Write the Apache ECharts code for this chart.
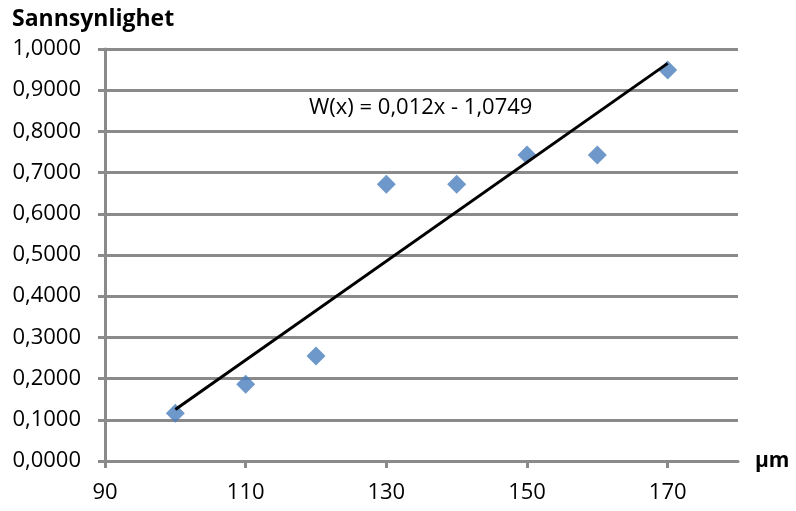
<!DOCTYPE html>
<html>
<head>
<meta charset="utf-8">
<script src="https://cdn.jsdelivr.net/npm/echarts@6/dist/echarts.min.js"></script>
<style>
  html, body { margin: 0; padding: 0; background: #fff; }
  #chart { width: 796px; height: 511px; }
</style>
</head>
<body>
<div id="chart"></div>
<script>
// Measured diameters (µm) and the observed probability for each
const diameters = [100, 110, 120, 130, 140, 150, 160, 170];
const probabilities = [0.116, 0.186, 0.255, 0.672, 0.672, 0.743, 0.743, 0.949];

// Linear trend W(x) = a·x + b, drawn over the measured range
const trendSlope = 0.012;
const trendIntercept = -1.0749;
const trendRange = [100, 170];

const xTickValues = [90, 110, 130, 150, 170];

const FONT = '"Open Sans", "Noto Sans", sans-serif';
const GRID_GRAY = '#8a8a8a';

const points = diameters.map((d, i) => [d, probabilities[i]]);
const trendPoints = trendRange.map(x => [x, trendSlope * x + trendIntercept]);

const fmtComma = (v, digits) => v.toFixed(digits).replace('.', ',');

const chart = echarts.init(document.getElementById('chart'), null, { renderer: 'canvas' });
chart.setOption({
  animation: false,
  backgroundColor: '#ffffff',
  title: {
    text: 'Sannsynlighet',
    left: 7,
    top: 3,
    textStyle: { fontFamily: FONT, fontSize: 23, fontWeight: 'bold', color: '#000' }
  },
  grid: { left: 105, right: 58, top: 49, bottom: 50, containLabel: false },
  xAxis: {
    type: 'value',
    min: 90,
    max: 180,
    name: 'µm',
    nameLocation: 'end',
    nameGap: 17,
    nameTextStyle: { fontFamily: FONT, fontSize: 21, fontWeight: 'bold', color: '#000', verticalAlign: 'middle', padding: [6, 0, 0, 0] },
    axisLine: { show: true, onZero: false, lineStyle: { color: GRID_GRAY, width: 3 } },
    axisTick: { show: true, length: 7, customValues: xTickValues, lineStyle: { color: GRID_GRAY, width: 3 } },
    axisLabel: {
      customValues: xTickValues,
      margin: 21,
      fontFamily: FONT, fontSize: 22, color: '#000',
      formatter: v => String(v)
    },
    splitLine: { show: false }
  },
  yAxis: {
    type: 'value',
    min: 0,
    max: 1,
    interval: 0.1,
    axisLine: { show: true, lineStyle: { color: GRID_GRAY, width: 3 } },
    axisTick: { show: true, length: 7, lineStyle: { color: GRID_GRAY, width: 3 } },
    axisLabel: {
      margin: 24,
      fontFamily: FONT, fontSize: 22, color: '#000',
      formatter: v => fmtComma(v, 4)
    },
    splitLine: { show: true, lineStyle: { color: GRID_GRAY, width: 3 } }
  },
  series: [
    {
      type: 'line',
      data: trendPoints,
      symbol: 'none',
      lineStyle: { color: '#000', width: 3 },
      z: 3
    },
    {
      type: 'scatter',
      data: points,
      symbol: 'diamond',
      symbolSize: [19, 19],
      itemStyle: { color: '#4a7ebb' },
      z: 2
    }
  ],
  graphic: [
    {
      type: 'text',
      left: 309,
      top: 97,
      style: {
        text: 'W(x) = ' + fmtComma(trendSlope, 3) + 'x - ' + fmtComma(-trendIntercept, 4),
        font: '22px ' + FONT,
        fill: '#000'
      }
    }
  ]
});
</script>
</body>
</html>
